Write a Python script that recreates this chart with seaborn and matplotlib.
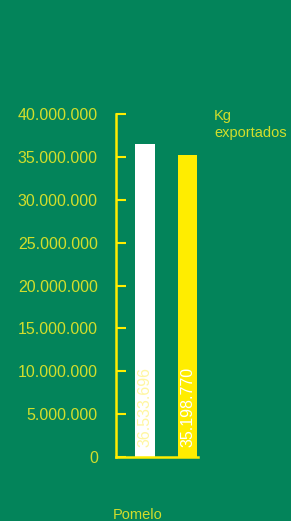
import pandas as pd
import seaborn as sns
import matplotlib.pyplot as plt

# data
series = ["A", "B"]
kg = [36533696, 35198770]
bar_labels = ["36.533.696", "35.198.770"]
product = "Pomelo"
yticks = list(range(0, 40000001, 5000000))
ytick_labels = ["0", "5.000.000", "10.000.000", "15.000.000", "20.000.000",
                "25.000.000", "30.000.000", "35.000.000", "40.000.000"]

bg = "#03845A"
txt = "#D2DE2C"
yel = "#FFED00"

plt.rcParams["font.family"] = ["Liberation Sans", "DejaVu Sans"]

df = pd.DataFrame({"serie": series, "kg": kg})

fig = plt.figure(figsize=(2.91, 5.21), dpi=100, facecolor=bg)
ax = fig.add_axes([116/291, 64/521, 82/291, 343/521])
ax.set_facecolor(bg)

sns.barplot(data=df, x="serie", y="kg", hue="serie", palette=["white", yel],
            width=0.47, legend=False, ax=ax, saturation=1)

ax.set_xlim(-0.682, 1.247)
ax.set_ylim(0, 40000000)
ax.set_yticks(yticks)
ax.set_yticklabels(ytick_labels)
ax.set_xticks([])
ax.set_ylabel("")
ax.set_xlabel(product, color=txt, fontsize=10.5)
ax.xaxis.set_label_coords(0.26, -0.148)

for s in ["top", "right"]:
    ax.spines[s].set_visible(False)
for s in ["left", "bottom"]:
    ax.spines[s].set_color(yel)
    ax.spines[s].set_linewidth(1.8)
ax.tick_params(axis="y", direction="in", length=7.2, width=1.5, color=yel,
               labelcolor=txt, labelsize=11.5, pad=13)

label_colors = ["#FFF6A0", "#FFFFFF"]
for i, (lab, c) in enumerate(zip(bar_labels, label_colors)):
    ax.text(i, 1200000, lab, rotation=90, ha="center", va="bottom",
            color=c, fontsize=11.5)

fig.text(214/291, 1 - 109/521, "Kg\nexportados", color=txt, fontsize=10.5,
         ha="left", va="top", linespacing=1.25)

plt.savefig("out.png", dpi=100, facecolor=bg)
